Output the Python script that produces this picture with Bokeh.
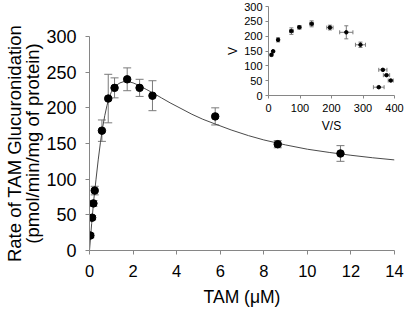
import math
from bokeh.plotting import figure
from bokeh.models import (Range1d, FixedTicker, ColumnDataSource, Whisker, TeeHead)
from bokeh.embed import file_html
from bokeh.resources import INLINE

# ---------------- data ----------------
# main plot: TAM concentration (uM) vs rate of glucuronidation
tam = [0.04, 0.12, 0.18, 0.24, 0.57, 0.86, 1.15, 1.73, 2.30, 2.89, 5.77, 8.64, 11.52]
rate = [21, 46, 66, 84, 168, 213, 228, 240, 228, 217, 188, 149, 136]
rate_err = [3, 3, 4, 6, 15, 34, 14, 16, 12, 21, 12, 5, 11]

# fitted curve
curve_x = [0, 0.05, 0.1, 0.2, 0.3, 0.4, 0.5, 0.6, 0.7, 0.8, 0.9, 1.0, 1.2, 1.4, 1.6,
           1.8, 2.0, 2.3, 2.6, 2.9, 3.3, 3.7, 4.2, 4.7, 5.2, 5.8, 6.5, 7.3, 8.0, 9.0,
           10, 11, 12, 13, 14]
curve_y = [0, 19, 38, 72, 100, 127, 151, 172, 189, 203, 214, 222, 231, 235, 237,
           236.5, 235, 231, 226, 221, 214, 207, 199, 191, 184, 177, 169, 161, 155, 148,
           142, 137.5, 133.5, 130, 127]

x_ticks = [0, 2, 4, 6, 8, 10, 12, 14]
y_ticks = [0, 50, 100, 150, 200, 250, 300]

# inset: Eadie-Hofstee plot
vs = [9.4, 14.7, 30.5, 72.7, 98, 137, 195, 247, 292, 363, 374.6, 388, 350]
v = [137, 149, 187.6, 217, 230, 241.6, 229, 213, 171, 86.5, 68.5, 50.5, 28]
vs_err = [2, 2, 3, 6, 5, 6, 10, 21, 16, 13, 10, 8, 17]
v_err = [4, 3, 7, 11, 6, 10, 8, 22, 9, 3, 3, 3, 3]

inset_x_ticks = [0, 100, 200, 300, 400]
inset_y_ticks = [0, 50, 100, 150, 200, 250, 300]

SANS = "Liberation Sans"
AXIS_GREY = "#868686"
BAR_GREY = "#7a7a7a"

# ---------------- main figure ----------------
p = figure(width=406, height=312, x_range=Range1d(0, 14), y_range=Range1d(0, 300),
           output_backend="svg", toolbar_location=None,
           min_border_left=88, min_border_right=12, min_border_top=36, min_border_bottom=62)
p.outline_line_color = None
p.grid.visible = False
p.background_fill_color = "white"
p.border_fill_color = "white"

p.xaxis.ticker = FixedTicker(ticks=x_ticks)
p.yaxis.ticker = FixedTicker(ticks=y_ticks)
for ax in (p.xaxis, p.yaxis):
    ax.axis_line_color = AXIS_GREY
    ax.major_tick_line_color = AXIS_GREY
    ax.major_tick_in = 0
    ax.major_tick_out = 4
    ax.minor_tick_line_color = None
    ax.major_label_text_font = SANS
    ax.major_label_text_color = "black"
    ax.axis_label_text_font = SANS
    ax.axis_label_text_font_style = "normal"
    ax.axis_label_text_color = "black"
p.xaxis.major_label_text_font_size = "16.5px"
p.yaxis.major_label_text_font_size = "18px"
p.xaxis.major_label_standoff = 10
p.yaxis.major_label_standoff = 9

p.xaxis.axis_label = "TAM (\u03bcM)"
p.xaxis.axis_label_text_font_size = "17.5px"
p.xaxis.axis_label_standoff = 7
p.yaxis.axis_label = "Rate of TAM Glucuronidation\n(pmol/min/mg of protein)"
p.yaxis.axis_label_text_font_size = "18.5px"
p.yaxis.axis_label_text_line_height = 0.88
p.yaxis.axis_label_standoff = 0

p.line(curve_x, curve_y, line_color="#4a4a4a", line_width=1)

src = ColumnDataSource(dict(
    x=tam, y=rate,
    lo=[r - e for r, e in zip(rate, rate_err)],
    hi=[r + e for r, e in zip(rate, rate_err)],
))
p.add_layout(Whisker(source=src, base="x", lower="lo", upper="hi",
                     line_color=BAR_GREY, line_width=1,
                     upper_head=TeeHead(size=8, line_color=BAR_GREY, line_width=1),
                     lower_head=TeeHead(size=8, line_color=BAR_GREY, line_width=1)))
p.scatter("x", "y", source=src, size=7.5, fill_color="black", line_color="black")

# ---------------- inset figure (same size, overlaid on top) ----------------
q = figure(width=406, height=312, x_range=Range1d(0, 400), y_range=Range1d(0, 300),
           output_backend="svg", toolbar_location=None,
           min_border_left=268, min_border_right=12, min_border_top=6, min_border_bottom=217)
q.outline_line_color = None
q.grid.visible = False
q.background_fill_alpha = 0
q.border_fill_alpha = 0
q.styles = {"position": "absolute", "left": "0px", "top": "0px"}

q.xaxis.ticker = FixedTicker(ticks=inset_x_ticks)
q.yaxis.ticker = FixedTicker(ticks=inset_y_ticks)
for ax in (q.xaxis, q.yaxis):
    ax.axis_line_color = AXIS_GREY
    ax.major_tick_line_color = AXIS_GREY
    ax.major_tick_in = 0
    ax.major_tick_out = 3
    ax.minor_tick_line_color = None
    ax.major_label_text_font = SANS
    ax.major_label_text_font_size = "11px"
    ax.major_label_text_color = "black"
    ax.axis_label_text_font = SANS
    ax.axis_label_text_font_size = "12px"
    ax.axis_label_text_font_style = "normal"
    ax.axis_label_text_color = "black"
q.xaxis.major_label_standoff = 5
q.yaxis.major_label_standoff = 3
q.xaxis.axis_label = "V/S"
q.yaxis.axis_label = "V"
q.xaxis.axis_label_standoff = 4
q.yaxis.axis_label_standoff = 1

isrc = ColumnDataSource(dict(
    x=vs, y=v,
    ylo=[a - e for a, e in zip(v, v_err)],
    yhi=[a + e for a, e in zip(v, v_err)],
    xlo=[a - e for a, e in zip(vs, vs_err)],
    xhi=[a + e for a, e in zip(vs, vs_err)],
))
q.add_layout(Whisker(source=isrc, base="x", lower="ylo", upper="yhi", dimension="height",
                     line_color=BAR_GREY, line_width=1,
                     upper_head=TeeHead(size=4, line_color=BAR_GREY, line_width=1),
                     lower_head=TeeHead(size=4, line_color=BAR_GREY, line_width=1)))
q.add_layout(Whisker(source=isrc, base="y", lower="xlo", upper="xhi", dimension="width",
                     line_color=BAR_GREY, line_width=1,
                     upper_head=TeeHead(size=4, line_color=BAR_GREY, line_width=1),
                     lower_head=TeeHead(size=4, line_color=BAR_GREY, line_width=1)))
q.scatter("x", "y", source=isrc, size=3.5, fill_color="black", line_color="black")

# two independent roots: the main chart, and the inset absolutely positioned over it
open("out.html", "w").write(file_html([p, q], INLINE))
